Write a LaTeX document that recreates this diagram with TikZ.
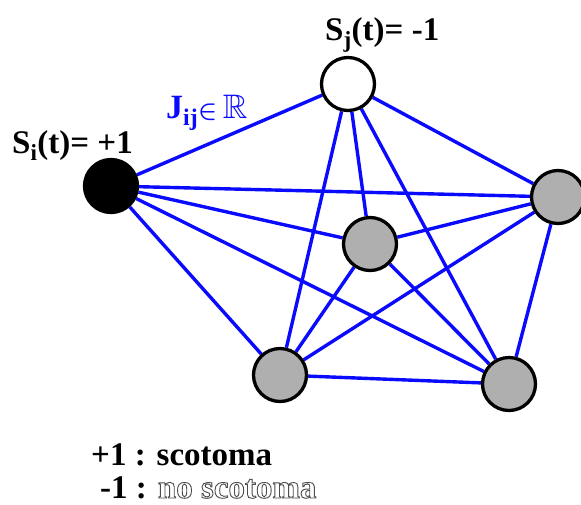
\documentclass[tikz,border=0pt]{standalone}
\usepackage{fontspec}
\setmainfont{Liberation Serif}
\usepackage{amsmath,amssymb,bm}
\usetikzlibrary{backgrounds}
\definecolor{linkblue}{RGB}{10,10,255}
\definecolor{nodegray}{RGB}{175,175,175}
\newcommand{\hollowtext}[1]{\special{pdf:literal direct 1 Tr 0.9 w 0.3 G}#1\special{pdf:literal direct 0 Tr}}
\begin{document}
\begin{tikzpicture}[x=1pt,y=-1pt,
  vtx/.style={circle,draw=black,line width=3.3pt,minimum size=53pt,inner sep=0pt},
  link/.style={draw=linkblue,line width=3.4pt},
  lbl/.style={font=\fontsize{33}{34}\selectfont\bfseries,inner sep=0pt,anchor=base west}]
\useasboundingbox (0,0) rectangle (581,504);
\node[vtx,fill=black] (a) at (111,186) {};
\node[vtx,fill=white] (b) at (348,84) {};
\node[vtx,fill=nodegray] (c) at (558,197) {};
\node[vtx,fill=nodegray] (d) at (370,244) {};
\node[vtx,fill=nodegray] (e) at (280,375) {};
\node[vtx,fill=nodegray] (f) at (509,384) {};
\begin{scope}[on background layer]
\foreach \p/\q in {a/b,a/c,a/d,a/e,a/f,b/c,b/d,b/e,b/f,c/d,c/e,c/f,d/e,d/f,e/f}
  \draw[link] (\p) -- (\q);
\end{scope}
\node[lbl] (si) at (12,153) {S\textsubscript{i}(t)= +1};
\node[lbl] (sj) at (325,40) {S\textsubscript{j}(t)= -1};
\node[lbl,text=linkblue,font=\fontsize{34}{35}\selectfont\bfseries] (jij) at (166,118) {J\textsubscript{ij}$\bm{\in}$\,$\mathbb{R}$};
\node[lbl] (k1) at (91,465) {+1 : scotoma};
\node[lbl] (k2) at (100,498) {-1 : \hollowtext{no scotoma}};
\end{tikzpicture}
\end{document}
